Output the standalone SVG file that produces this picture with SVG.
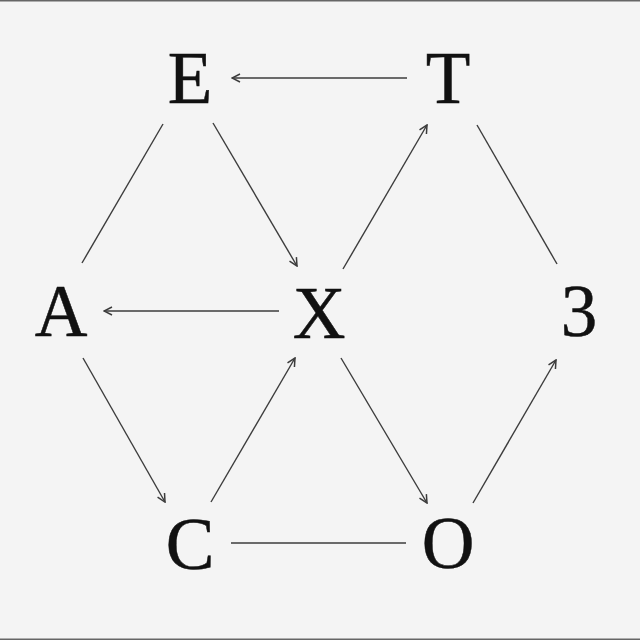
<svg xmlns="http://www.w3.org/2000/svg" width="640" height="640" viewBox="0 0 640 640">
<style>
.lbl{font-family:"Liberation Serif","Times New Roman",serif;font-size:73px;fill:#111;stroke:#111;stroke-width:0.5;text-anchor:middle}
.e{stroke:#3c3c3c;stroke-width:1.4;fill:none}
</style>
<defs>
<marker id="ah" viewBox="0 0 10 10" refX="9" refY="5" markerWidth="10" markerHeight="10" markerUnits="userSpaceOnUse" orient="auto">
<path d="M1,1 L9,5 L1,9" fill="none" stroke="#3c3c3c" stroke-width="1.5"/>
</marker>
</defs>
<rect x="0" y="0" width="640" height="640" fill="#f4f4f4"/>
<rect x="0" y="0" width="640" height="1.5" fill="#666"/>
<rect x="0" y="638.5" width="640" height="1.5" fill="#666"/>
<g id="connectors">
<line class="e" x1="407" y1="78" x2="232" y2="78" marker-end="url(#ah)"/>
<line class="e" x1="163" y1="124" x2="82" y2="263"/>
<line class="e" x1="213" y1="123" x2="297" y2="266" marker-end="url(#ah)"/>
<line class="e" x1="343" y1="269" x2="427" y2="125" marker-end="url(#ah)"/>
<line class="e" x1="477" y1="125" x2="557" y2="264"/>
<line class="e" x1="279" y1="311" x2="104" y2="311" marker-end="url(#ah)"/>
<line class="e" x1="83" y1="358" x2="165" y2="502" marker-end="url(#ah)"/>
<line class="e" x1="211" y1="502" x2="295" y2="358" marker-end="url(#ah)"/>
<line class="e" x1="341" y1="358" x2="427" y2="503" marker-end="url(#ah)"/>
<line class="e" x1="473" y1="503" x2="556" y2="360" marker-end="url(#ah)"/>
<line class="e" x1="231" y1="543" x2="406" y2="543"/>
</g>
<g id="E"><text class="lbl" x="190" y="103">E</text></g>
<g id="T"><text class="lbl" x="448" y="103">T</text></g>
<g id="A"><text class="lbl" x="61" y="336">A</text></g>
<g id="X"><text class="lbl" x="319" y="338">X</text></g>
<g id="three"><text class="lbl" x="579" y="336">3</text></g>
<g id="C"><text class="lbl" x="190" y="569">C</text></g>
<g id="O"><text class="lbl" x="448" y="568">O</text></g>
</svg>
